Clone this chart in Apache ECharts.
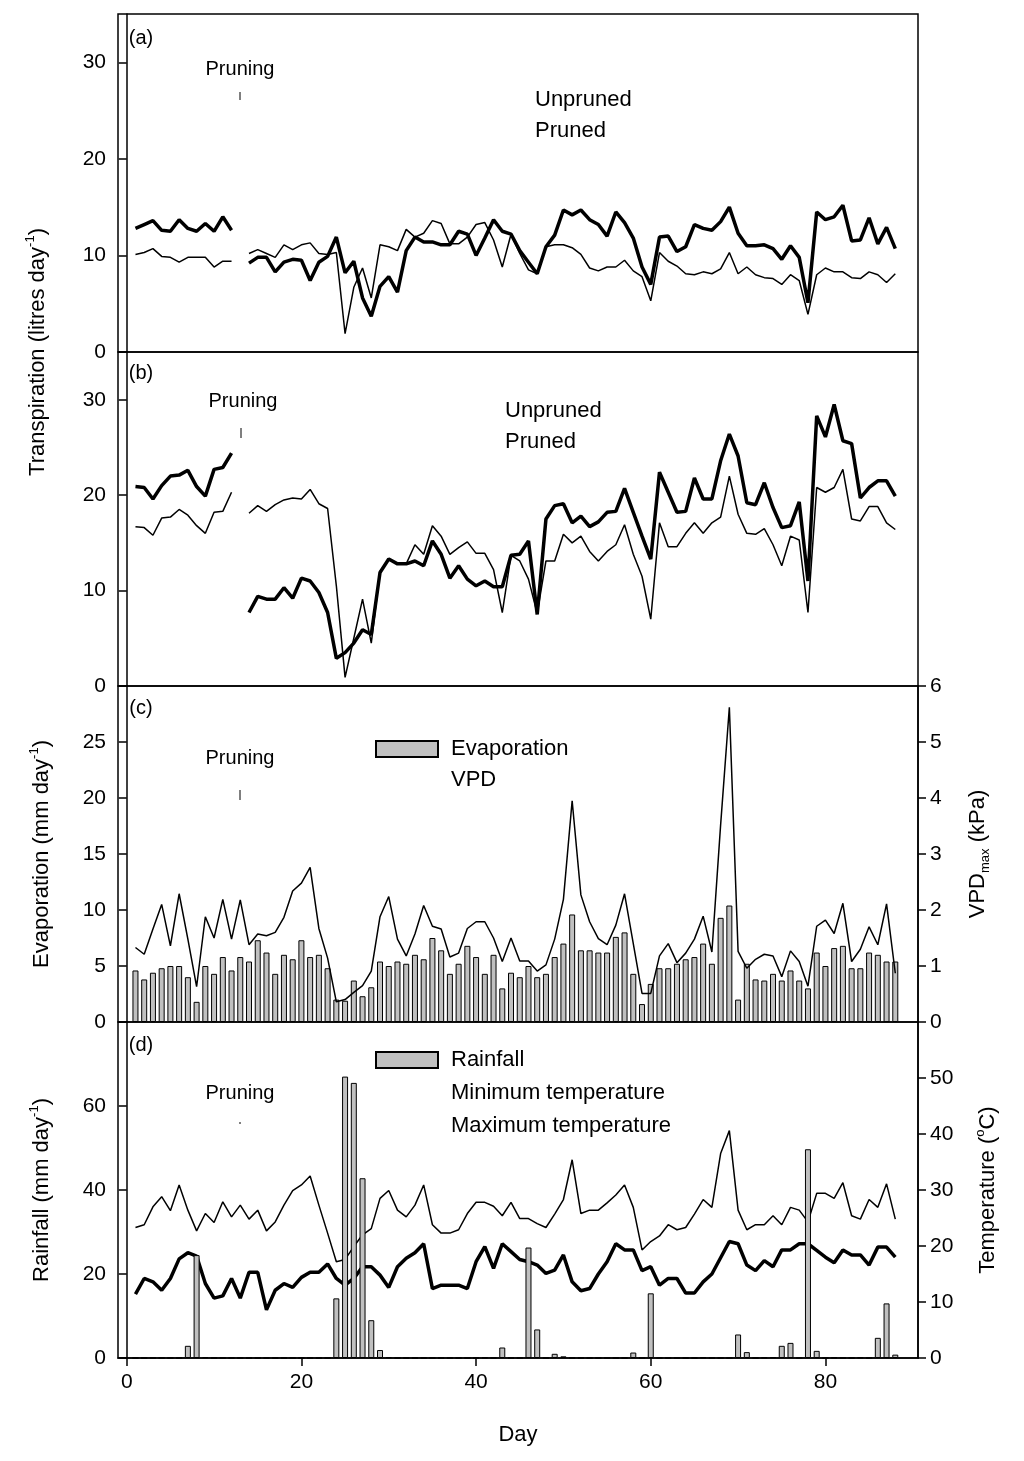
<!DOCTYPE html>
<html>
<head>
<meta charset="utf-8">
<script src="https://cdn.jsdelivr.net/npm/echarts@6/dist/echarts.min.js"></script>
<style>html,body{margin:0;padding:0;background:#fff}#chart{width:1024px;height:1461px}</style>
</head>
<body>
<div id="chart"></div>
<script>
// daily values, day 1..88 (null = no reading, day 13 is pruning day)
var days = [];
for (var i = 1; i <= 88; i++) days.push(i);

var unprunedA = [10.1,10.3,10.7,9.9,9.8,9.3,9.8,9.8,9.8,8.8,9.4,9.4,null,
  10.2,10.6,10.2,9.8,11.1,10.6,11.1,11.3,10.2,10.1,10.3,1.9,6.7,8.7,5.6,11.1,10.9,10.5,12.7,11.9,12.3,13.6,13.3,11.2,11.2,11.9,13.2,13.4,11.6,8.8,12.2,10.2,8.5,
  8.1,10.9,11.1,11.1,10.8,10.1,8.7,8.4,8.8,8.8,9.5,8.4,7.8,5.3,10.3,9.4,8.9,8.1,8.0,8.3,8.1,8.6,10.3,8.1,8.8,8.0,7.7,7.6,7.0,8.0,7.4,3.9,8.0,8.7,8.3,8.3,7.7,7.6,8.3,8.0,7.2,8.1];
var prunedA = [12.8,13.2,13.6,12.6,12.5,13.7,12.8,12.5,13.3,12.5,14.0,12.6,null,
  9.2,9.8,9.8,8.3,9.3,9.6,9.5,7.4,9.3,9.9,11.9,8.2,9.4,5.6,3.7,6.8,7.8,6.2,10.5,11.9,11.4,11.4,11.1,11.1,12.5,12.2,10.0,11.8,13.7,12.5,12.2,10.5,9.3,
  8.1,10.9,12.1,14.7,14.2,14.7,13.7,13.2,12.0,14.5,13.4,11.8,8.8,7.0,11.9,12.0,10.4,10.9,13.2,12.8,12.6,13.5,15.0,12.3,11.0,11.0,11.1,10.7,9.6,11.0,9.8,5.1,14.5,13.7,14.0,15.2,11.5,11.6,13.9,11.2,12.9,10.7];
var unprunedB = [16.7,16.6,15.8,17.6,17.7,18.5,17.9,16.8,16.0,18.2,18.3,20.3,null,
  18.1,18.9,18.3,19.0,19.5,19.7,19.6,20.6,19.1,18.6,10.5,0.9,5.0,9.1,4.5,12.0,13.3,12.8,12.8,14.8,13.8,16.8,15.7,13.8,14.5,15.1,13.9,13.9,12.2,7.7,13.7,13.1,11.2,
  7.6,13.1,13.1,15.9,15.0,15.7,14.1,13.1,14.1,14.8,16.9,13.8,11.5,7.0,17.1,14.6,14.6,16.0,17.1,16.0,17.1,17.7,22.0,18.0,16.0,15.9,16.5,14.8,12.6,15.7,15.3,7.7,20.8,20.3,20.8,22.7,17.5,17.3,18.8,18.8,17.1,16.4];
var prunedB = [20.9,20.8,19.6,21.0,22.0,22.1,22.6,20.9,19.9,22.7,22.9,24.4,null,
  7.7,9.4,9.1,9.1,10.3,9.2,11.3,11.0,9.8,7.7,2.9,3.5,4.5,5.9,5.4,11.9,13.3,12.8,12.8,13.1,12.6,15.2,13.8,11.3,12.6,11.2,10.5,11.0,10.4,10.4,13.7,13.8,15.2,
  7.5,17.5,18.9,19.1,17.1,17.8,16.7,17.2,18.2,18.3,20.7,18.2,15.7,13.3,22.4,20.3,18.2,18.3,21.8,19.6,19.6,23.6,26.4,24.1,19.2,19.0,21.3,18.7,16.6,16.8,19.3,11.0,28.3,26.1,29.5,25.7,25.4,19.7,20.8,21.5,21.5,19.9];
var evaporation = [4.6,3.8,4.4,4.8,5.0,5.0,4.0,1.8,5.0,4.3,5.8,4.6,5.8,5.4,7.3,6.2,4.3,6.0,5.6,7.3,5.8,6.0,4.8,2.0,1.9,3.7,2.3,3.1,5.4,5.0,5.4,5.2,6.0,5.6,7.5,6.4,4.3,5.2,6.8,5.8,4.3,6.0,3.0,4.4,
  4.0,5.0,4.0,4.3,5.8,7.0,9.6,6.4,6.4,6.2,6.2,7.6,8.0,4.3,1.6,3.4,4.8,4.8,5.2,5.6,5.8,7.0,5.2,9.3,10.4,2.0,5.2,3.8,3.7,4.3,3.7,4.6,3.7,3.0,6.2,5.0,6.6,6.8,4.8,4.8,6.2,6.0,5.4,5.4];
var vpd = [1.33,1.21,1.66,2.10,1.36,2.29,1.48,0.63,1.88,1.50,2.19,1.48,2.18,1.38,1.57,1.54,1.60,1.87,2.34,2.48,2.76,1.67,1.14,0.36,0.40,0.53,0.65,0.91,1.88,2.24,1.48,1.18,1.57,2.08,1.71,1.66,1.16,1.23,1.67,1.79,1.79,1.50,1.08,1.50,
  1.09,1.09,0.91,1.02,1.48,2.19,3.95,2.27,1.79,1.49,1.38,1.73,2.29,1.40,0.51,0.51,1.18,1.40,1.06,1.23,1.48,1.89,1.25,3.52,5.62,1.26,0.96,1.12,1.21,1.18,0.81,1.27,1.08,0.64,1.71,1.82,1.58,2.12,1.08,1.30,1.70,1.38,2.11,0.87];
var rainfall = [0,0,0,0,0,0,2.9,24.5,0.2,0,0,0,0,0,0,0,0,0,0,0,0,0,0,14.2,67.0,65.5,42.8,9.0,1.9,0.2,
  0,0,0,0,0,0,0,0,0,0,0.1,0,2.5,0,0,26.3,6.8,0,1.0,0.4,0,0,0,0,0,0,0,1.3,0,15.4,
  0,0,0,0,0,0.1,0,0,0,5.6,1.4,0,0.1,0.2,2.9,3.6,0,49.7,1.7,0,0.1,0,0,0.1,0,4.8,13.0,0.8];
var minTemp = [11.4,14.2,13.6,12.1,14.2,17.7,18.8,18.2,13.3,10.7,11.1,14.2,10.7,15.3,15.3,8.6,12.1,13.3,12.6,14.4,15.3,15.3,16.8,14.2,13.0,14.2,16.3,16.3,14.8,12.6,16.3,17.8,18.8,20.4,12.4,13.0,13.0,13.0,12.4,17.2,19.9,16.0,20.4,19.0,
  17.6,17.2,16.6,15.1,15.7,18.4,13.6,12.0,12.4,15.0,17.2,20.4,19.3,19.3,15.6,16.3,13.0,14.2,14.2,11.6,11.6,13.6,15.0,17.9,20.8,20.4,16.6,15.6,17.4,16.3,19.3,19.3,20.4,20.4,19.2,18.0,17.0,19.3,18.4,18.4,16.6,19.8,19.8,18.0];
var maxTemp = [23.3,23.8,27.0,28.8,26.3,30.9,26.4,22.7,25.8,24.2,27.9,25.2,27.3,24.8,26.4,22.7,24.3,27.3,29.9,30.9,32.5,27.3,22.3,17.2,17.6,19.9,22.0,23.1,28.5,29.9,26.4,25.2,27.3,30.9,23.8,22.3,22.3,22.9,25.8,27.8,27.8,27.1,25.4,27.8,
  24.9,24.9,24.0,23.3,25.7,28.3,35.4,25.8,26.4,26.4,27.7,29.1,30.9,26.9,19.3,20.8,21.8,23.8,22.9,23.3,25.7,28.3,26.9,36.5,40.6,26.4,22.9,23.8,23.8,25.4,23.8,26.9,26.4,24.3,29.4,29.4,28.5,31.3,25.4,24.8,28.3,26.9,31.1,24.8];
var dayTicks = [0, 20, 40, 60, 80];

function pairs(vals) {
  return days.map(function (d, i) { return [d, vals[i]]; });
}

var font = "'Liberation Sans', Arial, sans-serif";
var richName = {
  n: { fontSize: 22, fontFamily: font, color: '#000', lineHeight: 28 },
  s: { fontSize: 13, fontFamily: font, color: '#000', verticalAlign: 'top', lineHeight: 28 },
  b: { fontSize: 13, fontFamily: font, color: '#000', verticalAlign: 'bottom', lineHeight: 22 }
};

var grids = [
  { left: 118, right: 106, top: 14, height: 338 },
  { left: 118, right: 106, top: 352, height: 334 },
  { left: 118, right: 106, top: 686, height: 336 },
  { left: 118, right: 106, top: 1022, height: 336 }
].map(function (g) {
  g.show = true; g.borderColor = '#000'; g.borderWidth = 1.5; return g;
});

var xAxes = [0, 1, 2, 3].map(function (k) {
  return {
    type: 'value', gridIndex: k, min: -1, max: 90.6,
    show: k === 3,
    splitLine: { show: false },
    axisLine: { lineStyle: { color: '#000', width: 1.5 } },
    axisTick: { inside: false, length: 8, customValues: dayTicks, lineStyle: { color: '#000', width: 1.5 } },
    axisLabel: { customValues: dayTicks, fontSize: 21, fontFamily: font, color: '#000', margin: 14 },
    name: k === 3 ? 'Day' : '', nameLocation: 'middle', nameGap: 66,
    nameTextStyle: { fontSize: 22, fontFamily: font, color: '#000' }
  };
});

function yAxis(grid, max, interval, pos, name, gap) {
  return {
    type: 'value', gridIndex: grid, min: 0, max: max, interval: interval, position: pos,
    splitLine: { show: false },
    axisLine: { show: true, lineStyle: { color: '#000', width: 1.5 } },
    axisTick: { show: true, inside: false, length: 8, lineStyle: { color: '#000', width: 1.5 } },
    axisLabel: { fontSize: 21, fontFamily: font, color: '#000', margin: 12, showMaxLabel: max === 6 },
    name: name || '', nameLocation: 'middle', nameRotate: 90, nameGap: gap || 0,
    nameTextStyle: { rich: richName }
  };
}

var yAxes = [
  yAxis(0, 35, 10, 'left'),
  yAxis(1, 35, 10, 'left'),
  yAxis(2, 30, 5, 'left', '{n|Evaporation (mm day}{s|-1}{n|)}', 62),
  yAxis(2, 6, 1, 'right', '{n|VPD}{b|max}{n| (kPa)}', 46),
  yAxis(3, 80, 20, 'left', '{n|Rainfall (mm day}{s|-1}{n|)}', 62),
  yAxis(3, 60, 10, 'right', '{n|Temperature (}{s|o}{n|C)}', 56)
];

function line(name, vals, xi, yi, w) {
  return {
    name: name, type: 'line', xAxisIndex: xi, yAxisIndex: yi, data: pairs(vals),
    symbol: 'none', connectNulls: false, z: 3,
    lineStyle: { color: '#000', width: w }, itemStyle: { color: '#000' }
  };
}
function bars(name, vals, xi, yi, z) {
  return {
    name: name, type: 'bar', xAxisIndex: xi, yAxisIndex: yi, data: pairs(vals),
    barWidth: 6, z: z,
    itemStyle: { color: '#c0c0c0', borderColor: '#000', borderWidth: 1 }
  };
}

function legend(left, top, names, gap) {
  return {
    left: left, top: top, orient: 'vertical', itemGap: gap,
    data: names.map(function (n) {
      return { name: n, icon: (n === 'Evaporation' || n === 'Rainfall') ? 'rect' : 'none' };
    }),
    itemWidth: 62, itemHeight: 16, selectedMode: false,
    textStyle: { fontSize: 22, fontFamily: font, color: '#000', padding: [0, 0, 0, 8] }
  };
}

function text(x, y, t, size) {
  return { type: 'text', x: x, y: y, style: { text: t, font: size + 'px ' + font, fill: '#000', align: 'center', verticalAlign: 'middle' } };
}
function tick(x, y1, y2) {
  return { type: 'line', shape: { x1: x, y1: y1, x2: x, y2: y2 }, style: { stroke: '#000', lineWidth: 1 } };
}

var chart = echarts.init(document.getElementById('chart'));
chart.setOption({
  animation: false,
  backgroundColor: '#fff',
  grid: grids,
  xAxis: xAxes,
  yAxis: yAxes,
  legend: [
    legend(455, 84, ['Unpruned', 'Pruned'], 9),
    legend(425, 395, ['Unpruned', 'Pruned'], 9),
    legend(370, 733, ['Evaporation', 'VPD'], 9),
    legend(370, 1044, ['Rainfall', 'Minimum temperature', 'Maximum temperature'], 11)
  ],
  graphic: [
    text(141, 38, '(a)', 20), text(141, 373, '(b)', 20), text(141, 708, '(c)', 20), text(141, 1045, '(d)', 20),
    text(240, 69, 'Pruning', 20), text(243, 401, 'Pruning', 20), text(240, 758, 'Pruning', 20), text(240, 1093, 'Pruning', 20),
    tick(240, 92, 100), tick(241, 428, 438), tick(240, 790, 800), tick(240, 1122, 1124),
    {
      type: 'text', x: 38, y: 352, rotation: Math.PI / 2,
      style: { text: '{n|Transpiration (litres day}{s|-1}{n|)}', rich: richName, align: 'center', verticalAlign: 'middle' }
    }
  ],
  series: [
    line('Unpruned', unprunedA, 0, 0, 1.5),
    line('Pruned', prunedA, 0, 0, 3.5),
    line('Unpruned', unprunedB, 1, 1, 1.5),
    line('Pruned', prunedB, 1, 1, 3.5),
    bars('Evaporation', evaporation, 2, 2, 2),
    line('VPD', vpd, 2, 3, 1.5),
    line('Minimum temperature', minTemp, 3, 5, 3.5),
    line('Maximum temperature', maxTemp, 3, 5, 1.5),
    bars('Rainfall', rainfall, 3, 4, 4)
  ]
});
</script>
</body>
</html>
